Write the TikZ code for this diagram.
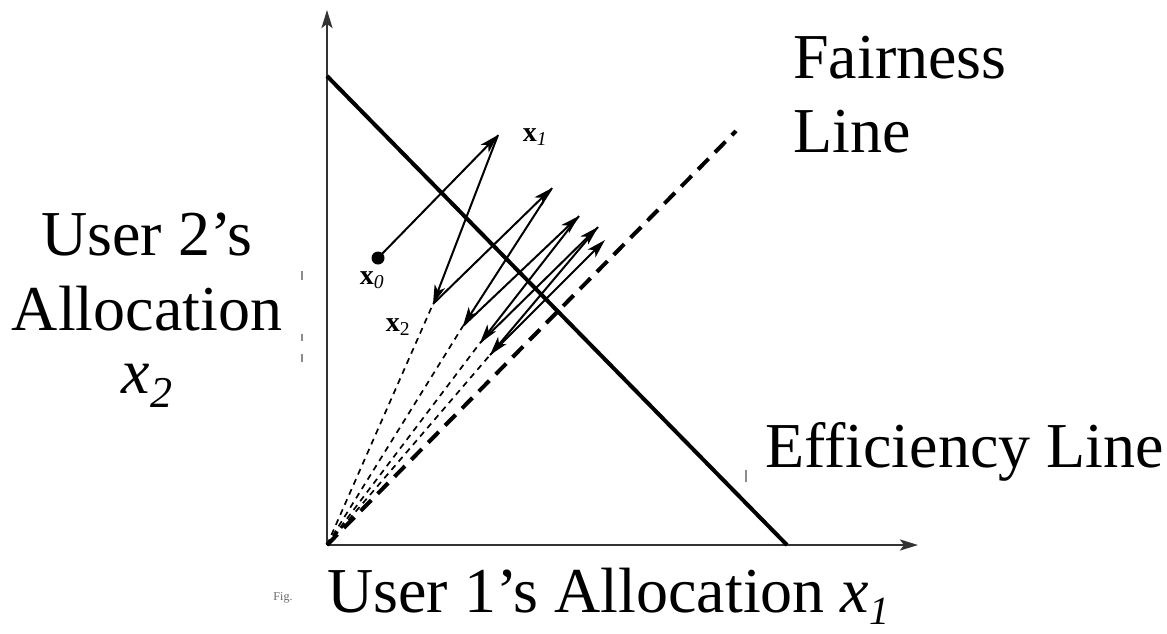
\documentclass[tikz,border=0pt]{standalone}
\usepackage{fontspec}
\setmainfont{Liberation Serif}
\usetikzlibrary{arrows.meta}
\begin{document}
\begin{tikzpicture}[x=1pt,y=-1pt,
  axis/.style={line width=2.4pt,draw=black!80,-{Stealth[length=18pt,width=11pt,inset=4pt]}},
  effline/.style={line width=4pt},
  fairline/.style={line width=4pt,dash pattern=on 15pt off 9pt},
  path/.style={line width=2pt,-{Stealth[length=19pt,width=11pt,inset=5pt]}},
  ray/.style={line width=1.7pt,dash pattern=on 6pt off 5pt},
  biglabel/.style={font=\fontsize{64}{76}\selectfont,inner sep=0pt},
  ptlabel/.style={font=\fontsize{28}{30}\selectfont,inner sep=0pt},
  faint/.style={line width=1.4pt,draw=black!45}]
\useasboundingbox (0,0) rectangle (1167,633);

% axes
\coordinate (O) at (327,545);
\coordinate (ytip) at (327,10);
\coordinate (xtip) at (918,545);
\draw[axis] (O) -- (ytip);
\draw[axis] (O) -- (xtip);

% efficiency and fairness lines
\coordinate (e1) at (327,76);
\coordinate (e2) at (787,545);
\draw[effline] (e1) -- (e2);
\coordinate (f2) at (736,131);
\draw[fairline] (O) -- (f2);

% operating points
\coordinate (x0) at (378,258);
\coordinate (x1) at (498,135);
\coordinate (x2) at (433,304);
\coordinate (pA) at (552,188);
\coordinate (pB) at (463,326);
\coordinate (pC) at (579,216);
\coordinate (pD) at (480,343);
\coordinate (pE) at (598,227);
\coordinate (pF) at (490,355);
\coordinate (pG) at (605,240);

% decrease rays toward the origin
\foreach \p in {x2,pB,pD,pF} \draw[ray] (O) -- (\p);

% trajectory
\fill (x0) circle (6.5pt);
\draw[path] (x0) -- (x1);
\draw[path] (x1) -- (x2);
\draw[path] (x2) -- (pA);
\draw[path] (pA) -- (pB);
\draw[path] (pB) -- (pC);
\draw[path] (pC) -- (pD);
\draw[path] (pD) -- (pE);
\draw[path] (pE) -- (pF);
\draw[path] (pF) -- (pG);

% point labels
\node[ptlabel] (lx0) at (372,280) {\textbf{x}\textsubscript{\itshape 0}};
\node[ptlabel] (lx1) at (535,137) {\textbf{x}\textsubscript{\itshape 1}};
\node[ptlabel] (lx2) at (398,327) {\textbf{x}\textsubscript{2}};

% axis and line titles
\node[biglabel,anchor=base west] (fair1) at (793,78) {Fairness};
\node[biglabel,anchor=base west] (fair2) at (793,152) {Line};
\node[biglabel,anchor=base west] (eff) at (765,467) {Efficiency Line};
\node[biglabel,anchor=base] (u2a) at (147,255) {User 2’s};
\node[biglabel,anchor=base] (u2b) at (147,330) {Allocation};
\node[biglabel,anchor=base] (u2c) at (147,393) {\itshape x\raisebox{-0.22em}{\fontsize{44}{44}\selectfont 2}};
\node[biglabel,anchor=base west] (u1) at (327,612) {User 1’s Allocation \itshape x\raisebox{-0.2em}{\fontsize{40}{40}\selectfont 1}};
\node[font=\fontsize{12}{13}\selectfont,text=black!60,inner sep=0pt] (fig) at (283,598) {Fig.};

% stray scan marks
\draw[faint] (746,470) -- (746,482);
\draw[faint] (302,271) -- (302,280);
\draw[faint] (302,334) -- (302,341);
\draw[faint] (302,354) -- (302,362);
\end{tikzpicture}
\end{document}
